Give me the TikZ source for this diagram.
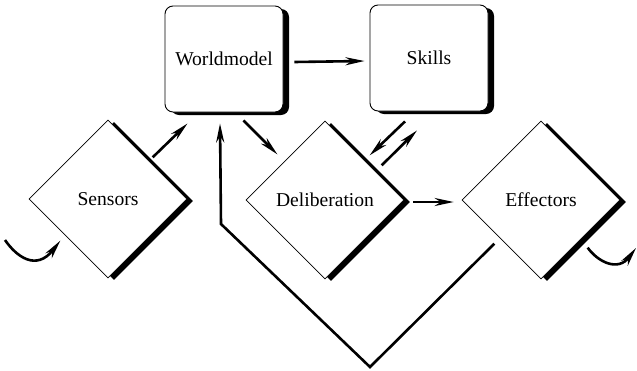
\documentclass[tikz,border=0pt]{standalone}
\usepackage{fontspec}
\setmainfont{Liberation Serif}
\usetikzlibrary{arrows.meta,positioning,calc,shapes.geometric,shadows}
\tikzset{box/.style={draw=black,fill=white,line width=0.9pt,rounded corners=8pt,minimum width=118pt,minimum height=106pt,font=\fontsize{19.6}{23}\selectfont,general shadow={fill=black,shadow xshift=6pt,shadow yshift=-3pt}}, gem/.style={diamond,aspect=1,draw=black,fill=white,line width=0.6pt,inner sep=0pt,minimum width=158pt,minimum height=158pt,font=\fontsize{19.6}{23}\selectfont,general shadow={fill=black,shadow xshift=6pt,shadow yshift=-2pt}}, flow/.style={-{Stealth[length=19pt,width=8pt,inset=6pt]},line width=2.6pt}}
\begin{document}
\begin{tikzpicture}[x=1pt,y=-1pt]
\useasboundingbox (0,0) rectangle (637,370);
\node[box] (world) at (224,59) {Worldmodel};
\node[box] (skills) at (429,58) {Skills};
\node[gem] (sens) at (108,199) {Sensors};
\node[gem] (delib) at (325,200) {Deliberation};
\node[gem] (effect) at (541,200) {Effectors};
\coordinate (in) at (5,240);\coordinate (out) at (636,248);
\coordinate (low) at (370,367);\coordinate (bend) at (221,224);
\draw[flow] (world.east)++(11,3) -- ([shift={(-5,3)}]skills.west);
\draw[flow] ([shift={(5,-2)}]sens.north east) -- ([shift={(23,11)}]world.south west);
\draw[flow] ([shift={(-40,8)}]world.south east) -- ([shift={(-8,-6)}]delib.north west);
\draw[flow] ([shift={(-24,10)}]skills.south) -- ([shift={(5,-5)}]delib.north east);
\draw[flow] ([shift={(17,5)}]delib.north east) -- ([shift={(-12,19)}]skills.south);
\draw[flow] ([shift={(9,2)}]delib.east) -- ([shift={(-8,2)}]effect.west);
\draw[flow] ([shift={(-7,4)}]effect.south west) -- (low) -- (bend) -- ([shift={(-4,11)}]world.south);
\draw[flow] (in) .. controls (16,256) and (36,272) .. ([shift={(-8,2)}]sens.south west);
\draw[flow] ([shift={(7,8)}]effect.south east) .. controls (598,262) and (618,272) .. (out);
\end{tikzpicture}
\end{document}
